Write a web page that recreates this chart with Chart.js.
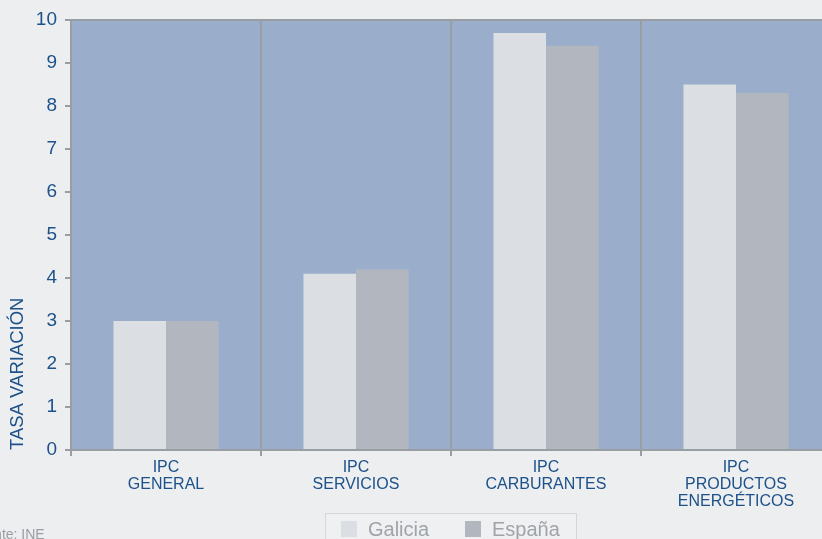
<!DOCTYPE html>
<html>
<head>
<meta charset="utf-8">
<script src="https://cdn.jsdelivr.net/npm/chart.js@4"></script>
<style>
  html, body { margin: 0; padding: 0; background: #eceef0; overflow: hidden; width: 822px; height: 539px; }
  #wrap { position: relative; width: 840px; height: 539px; }
  #fuente { position: absolute; left: -30px; top: 526px; font: 14px Arial, "Liberation Sans", sans-serif; color: #9a9ea4; }
  #legend { position: absolute; left: 325px; top: 513px; width: 250px; height: 40px; border: 1px solid #d3d6da; background: #eef0f2;
            font: 20px Arial, "Liberation Sans", sans-serif; color: #a0a4a9; }
  #legend span.item { position: absolute; top: 4px; }
  #legend i { display: inline-block; width: 16px; height: 16px; margin-right: 11px; vertical-align: -1px; }
</style>
</head>
<body>
<div id="wrap">
  <canvas id="chart" width="840" height="539"></canvas>
  <div id="fuente">Fuente: INE</div>
  <div id="legend"></div>
</div>
<script>
// data
const categories = [['IPC', 'GENERAL'], ['IPC', 'SERVICIOS'], ['IPC', 'CARBURANTES'], ['IPC', 'PRODUCTOS', 'ENERGÉTICOS']];
const seriesNames = ['Galicia', 'España'];
const galicia = [3.0, 4.1, 9.7, 8.5];
const espana = [3.0, 4.2, 9.4, 8.3];
const colors = ['#dbdee3', '#b2b7bf'];

const textBlue = '#1d5189';
const axisGray = '#999ea4';
const fontFamily = 'Arial, "Liberation Sans", sans-serif';

// plot background + top border
const plotBg = {
    id: 'plotBg',
    beforeDraw(chart) {
        const { ctx, chartArea: a } = chart;
        ctx.save();
        ctx.fillStyle = '#9aaecb';
        ctx.fillRect(a.left, a.top, a.right - a.left, a.bottom - a.top);
        ctx.restore();
    },
    afterDraw(chart) {
        const { ctx, chartArea: a } = chart;
        ctx.save();
        ctx.fillStyle = axisGray;
        ctx.fillRect(a.left - 1, a.top - 1, a.right - a.left + 2, 2);
        ctx.restore();
    }
};

const ctx = document.getElementById('chart').getContext('2d');
const chart = new Chart(ctx, {
    type: 'bar',
    data: {
        labels: categories,
        datasets: [
            { label: seriesNames[0], data: galicia, backgroundColor: colors[0], borderWidth: 0 },
            { label: seriesNames[1], data: espana, backgroundColor: colors[1], borderWidth: 0 }
        ]
    },
    options: {
        responsive: false,
        animation: false,
        layout: { padding: { top: 20, right: 9, bottom: 0, left: 0 } },
        datasets: { bar: { categoryPercentage: 0.553, barPercentage: 1 } },
        plugins: { legend: { display: false }, tooltip: { enabled: false } },
        scales: {
            x: {
                afterFit: s => { s.height = 89; },
                grid: { color: axisGray, lineWidth: 2, tickLength: 6, offset: true },
                border: { color: axisGray, width: 2 },
                ticks: { color: textBlue, padding: 3, font: { family: fontFamily, size: 16, lineHeight: 1.06 } }
            },
            y: {
                min: 0, max: 10,
                afterFit: s => { s.width = 71; },
                grid: { drawOnChartArea: false, color: axisGray, lineWidth: 2, tickLength: 6 },
                border: { color: axisGray, width: 2 },
                ticks: { stepSize: 1, color: textBlue, padding: 8, font: { family: fontFamily, size: 19 } },
                title: {
                    display: true, text: 'TASA VARIACIÓN', align: 'start',
                    color: textBlue, padding: { top: 7, bottom: 0 },
                    font: { family: fontFamily, size: 18.5 }
                }
            }
        }
    },
    plugins: [plotBg]
});

// html legend from dataset labels
const legend = document.getElementById('legend');
const offsets = [15, 139];
chart.data.datasets.forEach((ds, i) => {
    const item = document.createElement('span');
    item.className = 'item';
    item.style.left = offsets[i] + 'px';
    item.innerHTML = '<i style="background:' + ds.backgroundColor + '"></i>' + ds.label;
    legend.appendChild(item);
});
</script>
</body>
</html>
